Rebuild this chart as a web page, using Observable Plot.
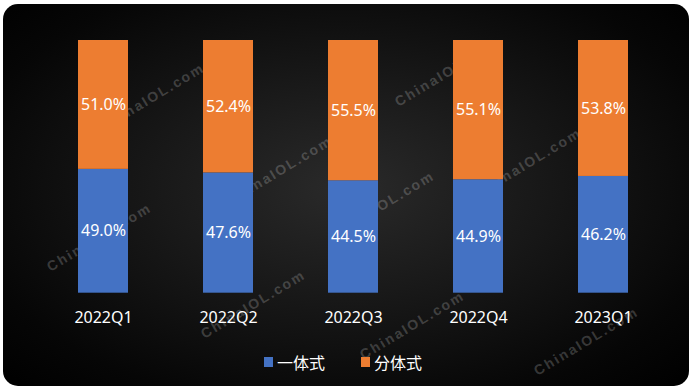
<!DOCTYPE html>
<html>
<head>
<meta charset="utf-8">
<script src="https://cdn.jsdelivr.net/npm/d3@7"></script>
<script src="https://cdn.jsdelivr.net/npm/@observablehq/plot@0.6"></script>
<style>
  html, body { margin: 0; padding: 0; background: #fff; }
  #page { position: relative; width: 694px; height: 390px; overflow: hidden; font-family: "Noto Sans", "Noto Sans CJK SC", sans-serif; }
  #bg { position: absolute; left: 3px; top: 4px; width: 686px; height: 382px; border-radius: 15px;
        background: radial-gradient(ellipse at 50% 48%, #2a2a2a 0%, #181818 40%, #060606 80%, #000 100%); }
  .wm { position: absolute; font-family: "Liberation Sans", Arial, sans-serif; font-weight: bold; font-size: 14px;
        letter-spacing: 2px; color: rgba(255,255,255,0.2); white-space: nowrap;
        transform: translate(-50%, -50%) rotate(-31deg); }
  #chart { position: absolute; left: 0; top: 0; }
  #legend { position: absolute; left: 264px; top: 350px; display: flex; align-items: center; gap: 36px; color: #fff; font-size: 16px; }
  .item { display: flex; align-items: center; gap: 4px; }
  .sw { width: 9px; height: 10px; }
</style>
</head>
<body>
<div id="page">
  <div id="bg"></div>
  <div id="wms"></div>
  <div id="chart"></div>
  <div id="legend"></div>
</div>
<script>
// ---- data ----
const quarters = ["2022Q1", "2022Q2", "2022Q3", "2022Q4", "2023Q1"];
const seriesNames = ["一体式", "分体式"];
const integratedShare = [49.0, 47.6, 44.5, 44.9, 46.2];
const splitShare = [51.0, 52.4, 55.5, 55.1, 53.8];
const seriesColors = ["#4472C4", "#ED7D31"];

const rows = [];
quarters.forEach((q, i) => {
  rows.push({quarter: q, series: seriesNames[0], value: integratedShare[i]});
  rows.push({quarter: q, series: seriesNames[1], value: splitShare[i]});
});

// ---- decoration: watermark ----
const wmText = "ChinaIOL.com";
const wmSpots = [[152,97],[447,72],[280,170],[382,205],[529,162],[99,237],[253,304],[412,325],[586,341]];
const wmLayer = document.getElementById("wms");
wmSpots.forEach(([x, y]) => {
  const d = document.createElement("div");
  d.className = "wm";
  d.textContent = wmText;
  d.style.left = x + "px";
  d.style.top = y + "px";
  wmLayer.appendChild(d);
});

// ---- chart ----
const chart = Plot.plot({
  width: 694,
  height: 340,
  marginTop: 40,
  marginBottom: 47.3,
  marginLeft: 40.5,
  marginRight: 28.5,
  style: {background: "transparent", color: "#fff", fontFamily: "'Noto Sans', 'Noto Sans CJK SC', sans-serif"},
  x: {domain: quarters, paddingInner: 0.6, paddingOuter: 0.3, label: null},
  y: {domain: [0, 100], axis: null},
  color: {domain: seriesNames, range: seriesColors},
  marks: [
    Plot.barY(rows, Plot.stackY({x: "quarter", y: "value", z: "series", fill: "series", order: seriesNames})),
    Plot.text(rows, Plot.stackY({x: "quarter", y: "value", z: "series", order: seriesNames,
      text: d => d.value.toFixed(1) + "%", fill: "#fff", fontSize: 16})),
    Plot.axisX({tickSize: 0, tickPadding: 18, fontSize: 16, label: null})
  ]
});
document.getElementById("chart").appendChild(chart);

// ---- legend ----
const legend = document.getElementById("legend");
seriesNames.forEach((name, i) => {
  const item = document.createElement("div");
  item.className = "item";
  const sw = document.createElement("div");
  sw.className = "sw";
  sw.style.background = seriesColors[i];
  const t = document.createElement("span");
  t.textContent = name;
  item.appendChild(sw);
  item.appendChild(t);
  legend.appendChild(item);
});
</script>
</body>
</html>
